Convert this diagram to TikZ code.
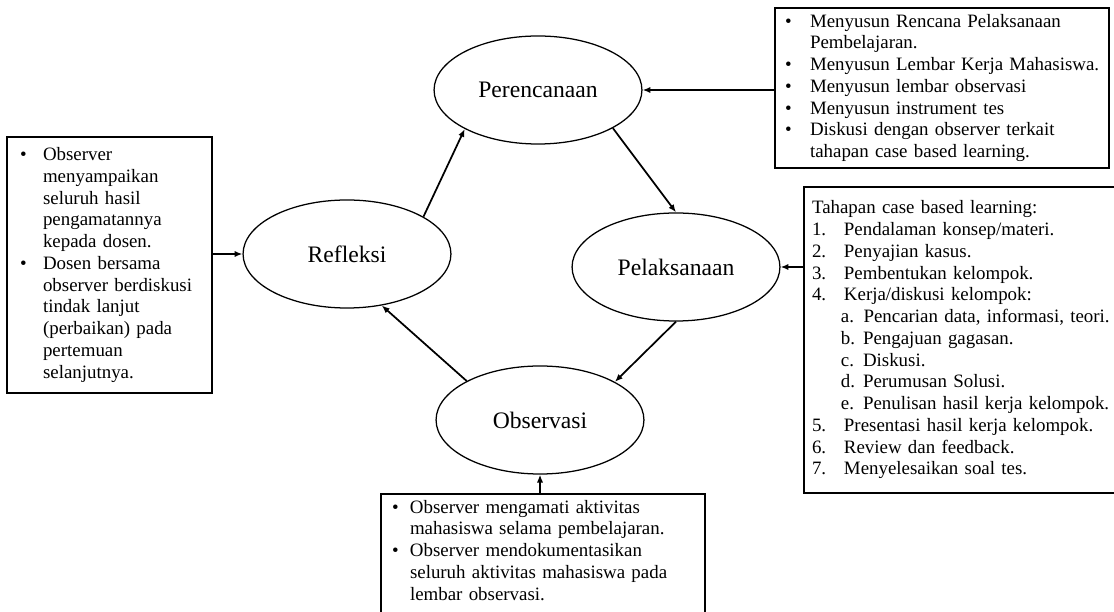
\documentclass[tikz,border=0pt]{standalone}
\usepackage{fontspec}
\setmainfont{Liberation Serif}
\usetikzlibrary{shapes.geometric,arrows.meta}

\newcommand{\nomor}[1]{\makebox[20.3pt][l]{#1}}
\newcommand{\huruf}[1]{\hspace*{18.4pt}\makebox[14pt][l]{#1}}

\tikzset{
    tahap/.style={draw, ellipse, line width=0.8pt, minimum width=132pt, minimum height=68.6pt,
        inner sep=0pt, font=\fontsize{15}{18}\selectfont},
    kotak/.style={draw, rectangle, line width=0.8pt, inner ysep=0pt, align=left,
        font=\fontsize{12}{13.8}\selectfont},
    panah/.style={-{Latex[length=5pt,width=4pt]}, line width=1.1pt}
}

\begin{document}
\begin{tikzpicture}[x=0.635pt, y=-0.635pt]
            \useasboundingbox (0,0) rectangle (1114,612);

            % siklus
            \node[tahap] (per) at (538,90) {Perencanaan};
            \node[tahap] (pel) at (676,267) {Pelaksanaan};
            \node[tahap] (obs) at (540,420) {Observasi};
            \node[tahap] (ref) at (347,254) {Refleksi};

            \draw[panah] (ref.26.6) -- (per.208);
            \draw[panah] (per.333.7) -- (pel.90);
            \draw[panah] (pel.270) -- (obs.27.8);
            \draw[panah] (obs.152.2) -- (ref.304);

            % kotak keterangan
            \node[kotak, text width=199.4pt, inner xsep=6.35pt, minimum height=101.6pt] (kper) at (942,88) {%
                \begin{tabular}{@{}p{15.9pt}@{}l@{}}
                \textbullet & Menyusun Rencana Pelaksanaan\\
                            & Pembelajaran.\\
                \textbullet & Menyusun Lembar Kerja Mahasiswa.\\
                \textbullet & Menyusun lembar observasi\\
                \textbullet & Menyusun instrument tes\\
                \textbullet & Diskusi dengan observer terkait\\
                            & tahapan case based learning.
                \end{tabular}};

            \node[kotak, text width=203.2pt, inner xsep=5.1pt, minimum height=194.3pt] (kpel) at (972,340) {%
                \begin{tabular}{@{}l@{}}
                Tahapan case based learning:\\
                \nomor{1.}Pendalaman konsep/materi.\\
                \nomor{2.}Penyajian kasus.\\
                \nomor{3.}Pembentukan kelompok.\\
                \nomor{4.}Kerja/diskusi kelompok:\\
                \hspace*{18.4pt}a. Pencarian data, informasi, teori.\\
                \huruf{b.}Pengajuan gagasan.\\
                \huruf{c.}Diskusi.\\
                \huruf{d.}Perumusan Solusi.\\
                \huruf{e.}Penulisan hasil kerja kelompok.\\
                \nomor{5.}Presentasi hasil kerja kelompok.\\
                \nomor{6.}Review dan feedback.\\
                \nomor{7.}Menyelesaikan soal tes.
                \end{tabular}};

            \node[kotak, text width=191.7pt, inner xsep=7pt, minimum height=99.1pt] (kobs) at (543,572) {%
                \begin{tabular}{@{}p{11.4pt}@{}l@{}}
                \textbullet & Observer mengamati aktivitas\\
                            & mahasiswa selama pembelajaran.\\
                \textbullet & Observer mendokumentasikan\\
                            & seluruh aktivitas mahasiswa pada\\
                            & lembar observasi.\\[25pt]
                \end{tabular}};

            \node[kotak, text width=113.6pt, inner xsep=8.3pt, minimum height=162.6pt] (kref) at (109.5,265) {%
                \begin{tabular}{@{}p{14.6pt}@{}l@{}}
                \textbullet & Observer\\
                            & menyampaikan\\
                            & seluruh hasil\\
                            & pengamatannya\\
                            & kepada dosen.\\
                \textbullet & Dosen bersama\\
                            & observer berdiskusi\\
                            & tindak lanjut\\
                            & (perbaikan) pada\\
                            & pertemuan\\
                            & selanjutnya.
                \end{tabular}};

            \draw[panah] (kper.west |- per.east) -- (per.east);
            \draw[panah] (kpel.west |- pel.east) -- (pel.east);
            \draw[panah] (kref.east |- ref.west) -- (ref.west);
            \draw[panah] (kobs.north -| obs.south) -- (obs.south);
\end{tikzpicture}
\end{document}
